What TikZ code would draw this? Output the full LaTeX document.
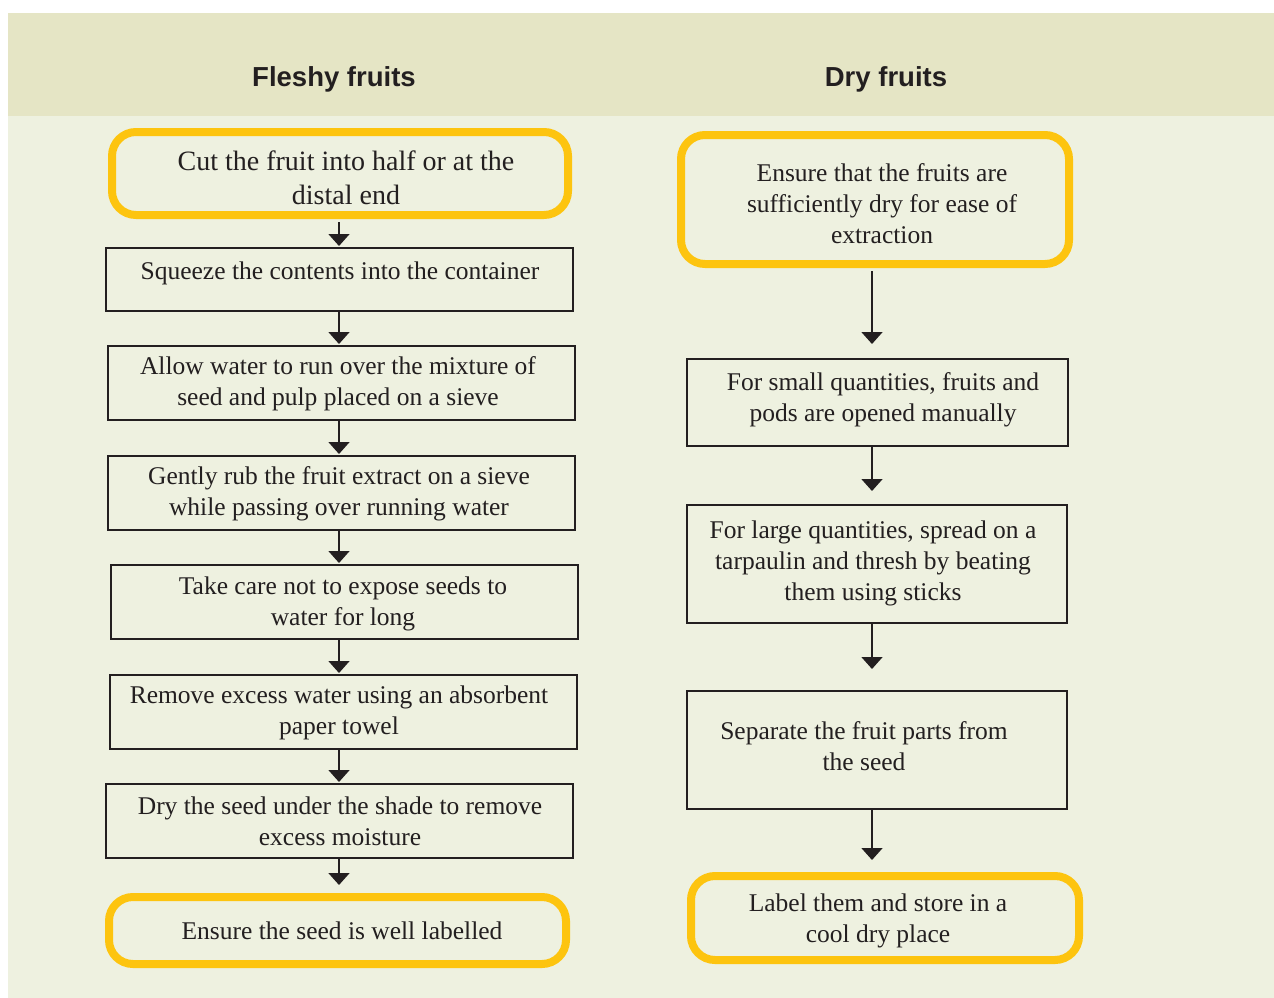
\documentclass[tikz,border=0pt]{standalone}
\usepackage{fontspec}
\setmainfont{Liberation Serif}
\newfontfamily\headfont{Liberation Sans}
\usetikzlibrary{arrows.meta}
\definecolor{headbg}{HTML}{E5E5C5}
\definecolor{bodybg}{HTML}{EEF1E0}
\definecolor{ybord}{HTML}{FDC40F}
\definecolor{ink}{HTML}{231F20}
\begin{document}
\begin{tikzpicture}[x=1pt,y=-1pt,
  ybox/.style={draw=ybord, line width=8pt, rounded corners=24pt, inner sep=0pt},
  bbox/.style={draw=ink, line width=2pt, inner sep=0pt},
  txt/.style={align=center, text=ink, inner sep=0pt, font=\fontsize{25.5}{31}\selectfont},
  head/.style={text=ink, inner sep=0pt, font=\headfont\bfseries\fontsize{27.5}{33}\selectfont},
  arr/.style={draw=ink, line width=1.7pt, -{Triangle[width=21pt,length=12pt]}}]
\useasboundingbox (0,0) rectangle (1274,998);
\fill[bodybg] (8,13) rectangle (1274,998);
\fill[headbg] (8,13) rectangle (1274,116);
\node[head] (h1) at (334,79.5) {Fleshy fruits};
\node[head] (h2) at (886,79.5) {Dry fruits};
% connectors (drawn first, boxes on top)
\coordinate (la) at (339,0);
\coordinate (ra) at (872,0);
% left column
\node[ybox, minimum width=456pt, minimum height=83pt] (l1) at (340,173.5) {};
\node[bbox, minimum width=467pt, minimum height=63pt] (l2) at (339.5,279.5) {};
\node[bbox, minimum width=467pt, minimum height=74pt] (l3) at (341.5,383) {};
\node[bbox, minimum width=467pt, minimum height=74pt] (l4) at (341.5,493) {};
\node[bbox, minimum width=467pt, minimum height=74pt] (l5) at (344.5,602) {};
\node[bbox, minimum width=467pt, minimum height=74pt] (l6) at (343.5,712) {};
\node[bbox, minimum width=467pt, minimum height=74pt] (l7) at (339.5,821) {};
\node[ybox, minimum width=457pt, minimum height=67pt] (l8) at (337.5,930.5) {};
\node[txt, font=\fontsize{28}{34}\selectfont] (t1) at (346,178) {Cut the fruit into half or at the\\distal end};
\node[txt] (t2) at (340,273) {Squeeze the contents into the container};
\node[txt] (t3) at (338,383.5) {Allow water to run over the mixture of\\seed and pulp placed on a sieve};
\node[txt] (t4) at (339,493.5) {Gently rub the fruit extract on a sieve\\while passing over running water};
\node[txt] (t5) at (343,603.5) {Take care not to expose seeds to\\water for long};
\node[txt] (t6) at (339,712.5) {Remove excess water using an absorbent\\paper towel};
\node[txt] (t7) at (340,821) {Dry the seed under the shade to remove\\excess moisture};
\node[txt] (t8) at (342,930.5) {Ensure the seed is well labelled};
% right column
\node[ybox, minimum width=388pt, minimum height=129pt] (r1) at (875,199.5) {};
\node[bbox, minimum width=381pt, minimum height=87pt] (r2) at (877.5,402.5) {};
\node[bbox, minimum width=380pt, minimum height=118pt] (r3) at (877,564) {};
\node[bbox, minimum width=380pt, minimum height=118pt] (r4) at (877,750) {};
\node[ybox, minimum width=388pt, minimum height=84pt] (r5) at (885,918) {};
\node[txt] (u1) at (882,203.5) {Ensure that the fruits are\\sufficiently dry for ease of\\extraction};
\node[txt] (u2) at (883,399.5) {For small quantities, fruits and\\pods are opened manually};
\node[txt] (u3) at (873,563) {For large quantities, spread on a\\tarpaulin and thresh by beating\\them using sticks};
\node[txt] (u4) at (864,746.5) {Separate the fruit parts from\\the seed};
\node[txt] (u5) at (878,920.5) {Label them and store in a\\cool dry place};
% connectors
\draw[arr, shorten <=3pt, shorten >=1pt] (l1.south -| la) -- (l2.north -| la);
\draw[arr, shorten >=1pt] (l2.south -| la) -- (l3.north -| la);
\draw[arr, shorten >=1pt] (l3.south -| la) -- (l4.north -| la);
\draw[arr, shorten >=1pt] (l4.south -| la) -- (l5.north -| la);
\draw[arr, shorten >=1pt] (l5.south -| la) -- (l6.north -| la);
\draw[arr, shorten >=1pt] (l6.south -| la) -- (l7.north -| la);
\draw[arr, shorten >=8pt] (l7.south -| la) -- (l8.north -| la);
\draw[arr, shorten <=3pt, shorten >=14pt] (r1.south -| ra) -- (r2.north -| ra);
\draw[arr, shorten >=13pt] (r2.south -| ra) -- (r3.north -| ra);
\draw[arr, shorten >=21pt] (r3.south -| ra) -- (r4.north -| ra);
\draw[arr, shorten >=12pt] (r4.south -| ra) -- (r5.north -| ra);
\end{tikzpicture}
\end{document}
